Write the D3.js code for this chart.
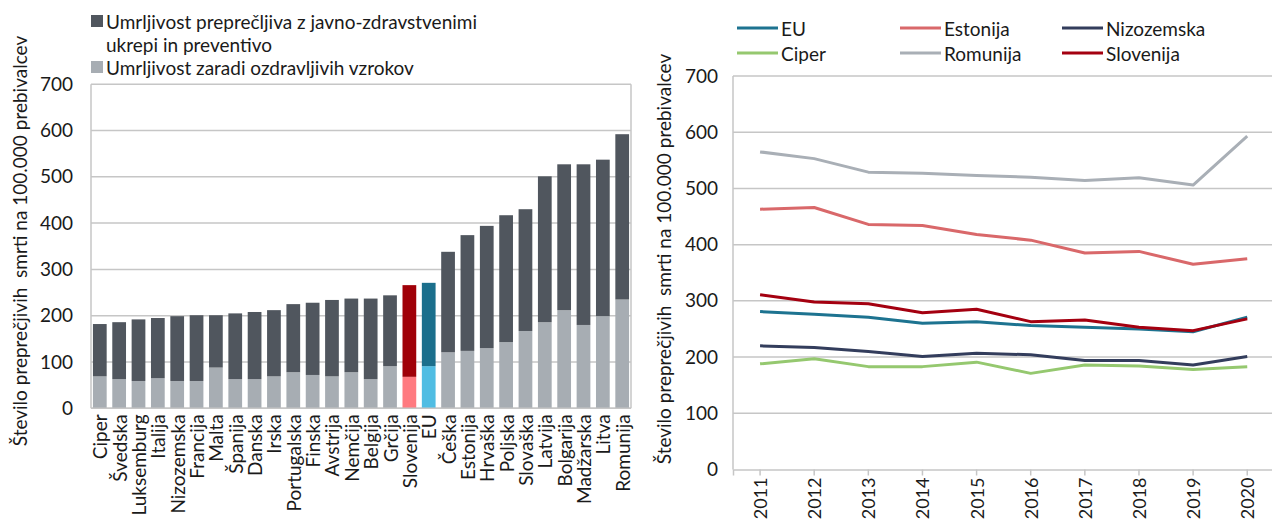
<!DOCTYPE html>
<html>
<head>
<meta charset="utf-8">
<script src="https://cdn.jsdelivr.net/npm/d3@7"></script>
<style>
  html, body { margin: 0; padding: 0; background: #fff; }
  svg { display: block; }
  text { font-family: "Lato", "Open Sans", sans-serif; fill: #1a1a1a; }
</style>
</head>
<body>
<svg id="chart" width="1272" height="520"></svg>
<script>
// ---------- data ----------
const countries = ["Ciper","Švedska","Luksemburg","Italija","Nizozemska","Francija","Malta","Španija","Danska","Irska","Portugalska","Finska","Avstrija","Nemčija","Belgija","Grčija","Slovenija","EU","Češka","Estonija","Hrvaška","Poljska","Slovaška","Latvija","Bolgarija","Madžarska","Litva","Romunija"];
const treatable   = [69,63,59,65,59,59,88,63,63,69,78,72,69,78,63,91,68,91,121,124,130,143,167,186,212,180,199,235];
const preventable = [113,123,133,130,140,142,113,142,145,143,147,156,165,159,174,153,198,180,217,250,264,274,263,315,315,347,338,357];

const years = ["2011","2012","2013","2014","2015","2016","2017","2018","2019","2020"];
const seriesNames = ["EU","Estonija","Nizozemska","Ciper","Romunija","Slovenija"];
const euVals         = [281,276,271,260,263,256,253,250,245,271];
const estonijaVals   = [463,466,436,434,418,408,385,388,365,375];
const nizozemskaVals = [220,217,210,201,207,204,194,194,186,201];
const ciperVals      = [188,197,183,183,191,171,186,184,178,183];
const romunijaVals   = [565,553,529,527,523,520,514,519,506,593];
const slovenijaVals  = [311,298,295,279,285,263,266,253,247,268];

const yTicks = [0,100,200,300,400,500,600,700];
const legendBars = ["Umrljivost preprečljiva z javno-zdravstvenimi|ukrepi in preventivo","Umrljivost zaradi ozdravljivih vzrokov"];
const yTitle = "Število preprečjivih\u00a0\u00a0smrti na 100.000 prebivalcev";

// ---------- styling ----------
const gridColor = "#c6c6c6";
const barDark = "#50565e", barLight = "#a7adb3";
const specialDark = {"Slovenija":"#a00008","EU":"#1b6f8c"};
const specialLight = {"Slovenija":"#ff7a80","EU":"#50bde3"};
const lineColors = {"EU":"#1d7390","Estonija":"#d9686a","Nizozemska":"#333d5c","Ciper":"#95c86f","Romunija":"#a9afb6","Slovenija":"#a40010"};
const lineValues = {"EU":euVals,"Estonija":estonijaVals,"Nizozemska":nizozemskaVals,"Ciper":ciperVals,"Romunija":romunijaVals,"Slovenija":slovenijaVals};
const FS = 19;

const svg = d3.select("#chart");

// ================= LEFT: stacked bars =================
const L = {x0: 91, x1: 631, y0: 408.3, y1: 84.2};
const xb = d3.scaleBand().domain(countries).range([L.x0, L.x1]).paddingInner(0.29).paddingOuter(0.1);
const yb = d3.scaleLinear().domain([0,700]).range([L.y0, L.y1]);

const gl = svg.append("g");
gl.selectAll("line.grid").data(yTicks).join("line")
  .attr("x1", L.x0).attr("x2", L.x1)
  .attr("y1", d => yb(d)).attr("y2", d => yb(d))
  .attr("stroke", gridColor).attr("stroke-width", 1.5);
gl.append("line").attr("x1", L.x0).attr("x2", L.x0).attr("y1", yb(700)).attr("y2", yb(0)).attr("stroke", gridColor).attr("stroke-width", 1.5);
gl.append("line").attr("x1", L.x1).attr("x2", L.x1).attr("y1", yb(700)).attr("y2", yb(0)).attr("stroke", gridColor).attr("stroke-width", 1.5);

const yAxisL = d3.axisLeft(yb).tickValues(yTicks).tickSize(0).tickPadding(0);
const gya = gl.append("g").attr("transform", `translate(${L.x0 - 18},0)`).call(yAxisL);
gya.select(".domain").remove();
gya.selectAll("text").attr("font-size", FS).attr("font-family", "Lato, sans-serif").attr("fill", "#1a1a1a");

const barData = countries.map((c,i) => ({c, t: treatable[i], p: preventable[i]}));
gl.selectAll("rect.light").data(barData).join("rect")
  .attr("x", d => xb(d.c)).attr("width", xb.bandwidth())
  .attr("y", d => yb(d.t)).attr("height", d => yb(0) - yb(d.t))
  .attr("fill", d => specialLight[d.c] || barLight);
gl.selectAll("rect.dark").data(barData).join("rect")
  .attr("x", d => xb(d.c)).attr("width", xb.bandwidth())
  .attr("y", d => yb(d.t + d.p)).attr("height", d => yb(d.t) - yb(d.t + d.p))
  .attr("fill", d => specialDark[d.c] || barDark);
gl.append("line").attr("x1", L.x0).attr("x2", L.x1).attr("y1", yb(0)).attr("y2", yb(0)).attr("stroke", gridColor).attr("stroke-width", 1.5);

const xAxisL = d3.axisBottom(xb).tickSize(0).tickPadding(0);
const gxa = gl.append("g").attr("transform", `translate(0,${L.y0})`).call(xAxisL);
gxa.select(".domain").remove();
gxa.selectAll("text")
  .attr("font-size", FS).attr("font-family", "Lato, sans-serif").attr("fill", "#1a1a1a")
  .attr("text-anchor", "end").attr("dy", null).attr("y", null)
  .attr("dominant-baseline", "central")
  .attr("transform", "translate(0,6) rotate(-90)");

// left y title
svg.append("text").attr("transform", "translate(19,241) rotate(-90)")
  .attr("text-anchor", "middle").attr("dominant-baseline", "central")
  .attr("font-size", FS).style("white-space", "pre").text(yTitle);

// left legend
const lg = svg.append("g");
const legRows = [{name: legendBars[0], color: barDark, y: 21}, {name: legendBars[1], color: barLight, y: 67}];
legRows.forEach(r => {
  lg.append("rect").attr("x", 91).attr("y", r.y - 6).attr("width", 12).attr("height", 12).attr("fill", r.color);
  const parts = r.name.split("|");
  parts.forEach((p, k) => {
    lg.append("text").attr("x", 106).attr("y", r.y + k * 23).attr("dominant-baseline", "central")
      .attr("font-size", FS).text(p);
  });
});

// ================= RIGHT: lines =================
const R = {x0: 733, x1: 1274.3, y0: 469.5, y1: 76};
const xl = d3.scaleBand().domain(years).range([R.x0, R.x1]).padding(0);
const xc = d => xl(d) + xl.bandwidth() / 2;
const yl = d3.scaleLinear().domain([0,700]).range([R.y0, R.y1]);

const gr = svg.append("g");
gr.selectAll("line.grid").data(yTicks.filter(d => d > 0)).join("line")
  .attr("x1", R.x0).attr("x2", R.x1)
  .attr("y1", d => yl(d)).attr("y2", d => yl(d))
  .attr("stroke", gridColor).attr("stroke-width", 1.5);
gr.append("line").attr("x1", R.x0).attr("x2", R.x0).attr("y1", yl(700)).attr("y2", yl(0)).attr("stroke", gridColor).attr("stroke-width", 1.5);

const yAxisR = d3.axisLeft(yl).tickValues(yTicks).tickSize(0).tickPadding(0);
const gyr = gr.append("g").attr("transform", `translate(${R.x0 - 15},0)`).call(yAxisR);
gyr.select(".domain").remove();
gyr.selectAll("text").attr("font-size", FS).attr("font-family", "Lato, sans-serif").attr("fill", "#1a1a1a");

const xAxisR = d3.axisBottom(xl).tickSize(6).tickPadding(0);
const gxr = gr.append("g").attr("transform", `translate(0,${R.y0})`).call(xAxisR);
gxr.select(".domain").attr("stroke", gridColor).attr("stroke-width", 1.5);
gxr.selectAll(".tick line").attr("stroke", gridColor).attr("stroke-width", 1.5);
gxr.selectAll("text")
  .attr("font-size", 18).attr("font-family", "Lato, sans-serif").attr("fill", "#1a1a1a")
  .attr("text-anchor", "end").attr("dy", null).attr("y", null)
  .attr("dominant-baseline", "central")
  .attr("transform", "translate(0,8) rotate(-90)");

const line = d3.line().x((d,i) => xc(years[i])).y(d => yl(d));
seriesNames.forEach(s => {
  gr.append("path").datum(lineValues[s]).attr("d", line)
    .attr("fill", "none").attr("stroke", lineColors[s]).attr("stroke-width", 3)
    .attr("stroke-linejoin", "round");
});

// right y title
svg.append("text").attr("transform", "translate(663,259) rotate(-90)")
  .attr("text-anchor", "middle").attr("dominant-baseline", "central")
  .attr("font-size", FS).style("white-space", "pre").text(yTitle);

// right legend
const legX = [737, 900, 1062];
seriesNames.forEach((s, i) => {
  const col = i % 3, row = Math.floor(i / 3);
  const x = legX[col], y = 28 + row * 25;
  svg.append("line").attr("x1", x).attr("x2", x + 41).attr("y1", y).attr("y2", y)
    .attr("stroke", lineColors[s]).attr("stroke-width", 3);
  svg.append("text").attr("x", x + 44).attr("y", y).attr("dominant-baseline", "central")
    .attr("font-size", FS).text(s);
});
</script>
</body>
</html>
